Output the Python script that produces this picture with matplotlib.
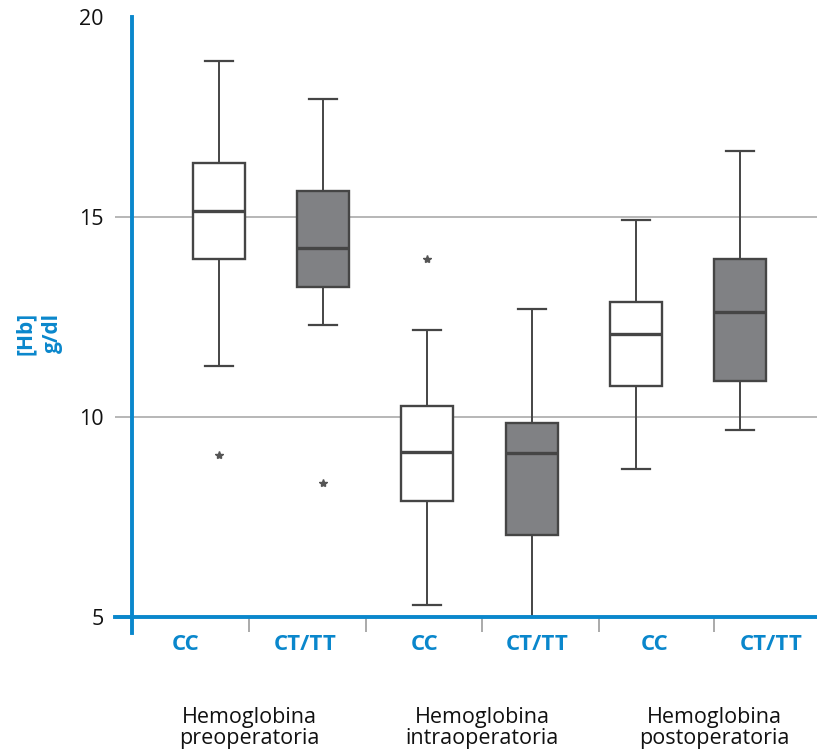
import matplotlib
matplotlib.use("Agg")
import matplotlib.pyplot as plt

plt.rcParams['font.family'] = ['Open Sans', 'DejaVu Sans']

# ---- data ----
genotypes = ["CC", "CT/TT", "CC", "CT/TT", "CC", "CT/TT"]
groups = ["Hemoglobina\npreoperatoria", "Hemoglobina\nintraoperatoria", "Hemoglobina\npostoperatoria"]
whisker_low = [11.28, 12.30, 5.30, 5.00, 8.70, 9.67]
q1 = [13.95, 13.26, 7.89, 7.05, 10.77, 10.91]
median = [15.15, 14.22, 9.13, 9.09, 12.07, 12.62]
q3 = [16.35, 15.65, 10.28, 9.86, 12.88, 13.96]
whisker_high = [18.91, 17.95, 12.18, 12.69, 14.93, 16.64]
outliers = [[9.05], [8.35], [13.94], [], [], []]
fills = ["white", "#808184", "white", "#808184", "white", "#808184"]
yticks = [5, 10, 15, 20]

# ---- layout ----
BLUE = "#0A87CC"
DARK = "#454545"
GRID = "#AAAAAA"
box_pos = [0, 1, 2, 3, 4, 5]
sep_pos = [0.288, 1.411, 2.524, 3.647, 4.750]
label_pos = [-0.317, 0.825, 1.977, 3.052, 4.184, 5.298]
group_pos = [0.288, 2.524, 4.750]

fig = plt.figure(figsize=(8.17, 7.51), dpi=100)
ax = fig.add_axes([132/817, (751-617)/751, (817-132)/817, (617-17)/751])

stats = []
for i in range(len(genotypes)):
    stats.append(dict(whislo=whisker_low[i], q1=q1[i], med=median[i], q3=q3[i],
                      whishi=whisker_high[i], fliers=outliers[i]))

bp = ax.bxp(stats, positions=box_pos, widths=0.5, patch_artist=True, showfliers=True,
            boxprops=dict(edgecolor=DARK, linewidth=1.7),
            medianprops=dict(color=DARK, linewidth=2.4),
            whiskerprops=dict(color=DARK, linewidth=1.4),
            capprops=dict(color=DARK, linewidth=1.6),
            capwidths=0.27,
            flierprops=dict(marker='*', markerfacecolor='#555555', markeredgecolor='#555555',
                            markersize=6))
for patch, fc in zip(bp['boxes'], fills):
    patch.set_facecolor(fc)
for art in bp['boxes'] + bp['medians'] + bp['whiskers'] + bp['caps'] + bp['fliers']:
    art.set_zorder(3)

ax.set_xlim(-0.835, 5.739)
ax.set_ylim(5, 20)

# grid
for y in [10, 15]:
    ax.axhline(y, color=GRID, linewidth=1.2, zorder=1)

# spines
for s in ['top', 'right']:
    ax.spines[s].set_visible(False)
ax.spines['left'].set_color(BLUE)
ax.spines['left'].set_linewidth(2.8)
ax.spines['left'].set_bounds(4.6, 20)
ax.spines['bottom'].set_color(BLUE)
ax.spines['bottom'].set_linewidth(2.8)
ax.spines['bottom'].set_bounds(-1.0, 5.739)
ax.spines['left'].set_zorder(4)
ax.spines['bottom'].set_zorder(4)

# y ticks
ax.set_yticks(yticks)
ax.set_yticklabels([str(v) for v in yticks], fontsize=15.5, color='#111111')
ax.tick_params(axis='y', length=12.5, width=1.2, color=GRID, pad=8)
for t, v in zip(ax.yaxis.get_major_ticks(), yticks):
    if v == 20:
        t.tick1line.set_visible(False)
    elif v == 5:
        t.tick1line.set_color(BLUE)
        t.tick1line.set_markeredgewidth(2.8)

# x ticks: separators
ax.set_xticks(sep_pos)
ax.set_xticklabels([])
ax.tick_params(axis='x', which='major', length=11, width=1.4, color=GRID, direction='out')
ax.set_xticks(label_pos, minor=True)
ax.set_xticklabels(genotypes, minor=True, fontsize=16, fontweight='bold', color=BLUE)
ax.tick_params(axis='x', which='minor', length=0, pad=12)

for gx, g in zip(group_pos, groups):
    ax.text(gx, -0.185, g, transform=ax.get_xaxis_transform(), ha='center', va='center',
            fontsize=15.5, color='#111111', linespacing=1.05)

fig.text(39/817, 1 - 333/751, "[Hb]\ng/dl", rotation=90, ha='center', va='center',
         fontsize=15, fontweight='bold', color=BLUE, linespacing=1.35)

fig.savefig("out.png", dpi=100)
